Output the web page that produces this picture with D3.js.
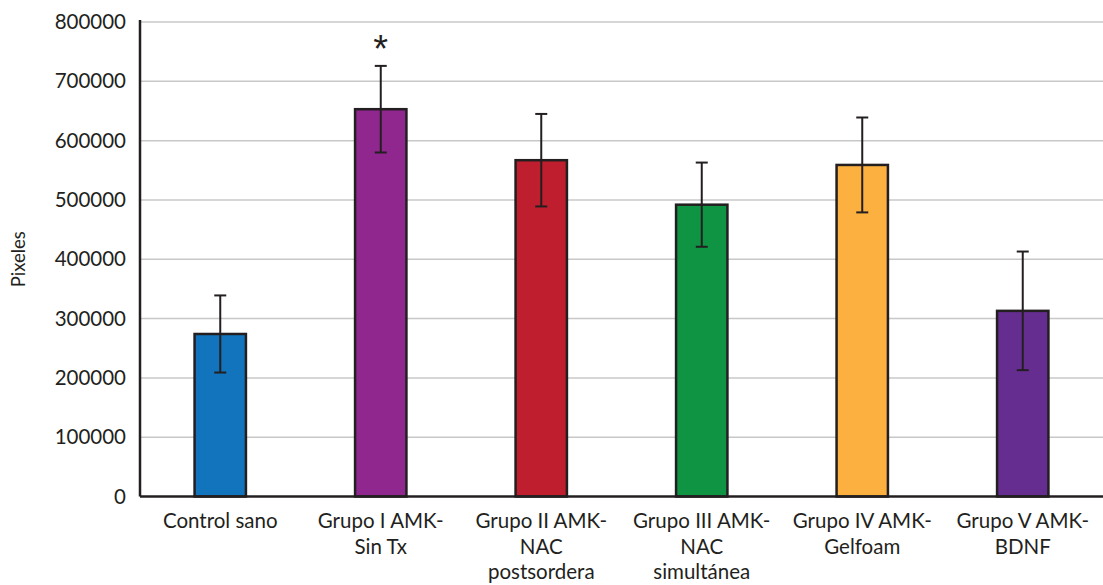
<!DOCTYPE html>
<html>
<head>
<meta charset="utf-8">
<script src="https://cdn.jsdelivr.net/npm/d3@7"></script>
<style>
  body { margin: 0; background: #fff; }
  svg { display: block; font-family: Lato, "Open Sans", sans-serif; }
</style>
</head>
<body>
<div id="chart"></div>
<script>
const categories = [
  ["Control sano"],
  ["Grupo I AMK-", "Sin Tx"],
  ["Grupo II AMK-", "NAC", "postsordera"],
  ["Grupo III AMK-", "NAC", "simultánea"],
  ["Grupo IV AMK-", "Gelfoam"],
  ["Grupo V AMK-", "BDNF"]
];
const values = [274000, 653000, 567000, 492000, 559000, 313000];
const errors = [65000, 73000, 78000, 71000, 80000, 100000];
const colors = ["#1174bc", "#8f278f", "#be1e2d", "#0f9444", "#fbb040", "#652d90"];
const marks = ["", "*", "", "", "", ""];
const yTicks = [0, 100000, 200000, 300000, 400000, 500000, 600000, 700000, 800000];

const W = 1103, H = 585;
const M = { top: 22, right: 0, bottom: 88.5, left: 140 };

const svg = d3.select("#chart").append("svg")
  .attr("width", W).attr("height", H);

const x = d3.scaleBand()
  .domain(d3.range(categories.length))
  .range([M.left, W - M.right])
  .paddingInner(0.68).paddingOuter(0.34);

const y = d3.scaleLinear()
  .domain([0, 800000])
  .range([H - M.bottom, M.top]);

// gridlines
svg.append("g")
  .selectAll("line")
  .data(yTicks.slice(1))
  .join("line")
  .attr("x1", M.left).attr("x2", W - M.right)
  .attr("y1", d => y(d)).attr("y2", d => y(d))
  .attr("stroke", "#c8c8c8")
  .attr("stroke-width", 1.5);

// y tick labels
svg.append("g")
  .selectAll("text")
  .data(yTicks)
  .join("text")
  .attr("x", M.left - 14)
  .attr("y", d => y(d))
  .attr("dy", "0.35em")
  .attr("text-anchor", "end")
  .attr("font-size", 20.5)
  .attr("fill", "#231f20")
  .text(d => d);

// bars
svg.append("g")
  .selectAll("rect")
  .data(values)
  .join("rect")
  .attr("x", (d, i) => x(i))
  .attr("y", d => y(d))
  .attr("width", x.bandwidth())
  .attr("height", d => y(0) - y(d))
  .attr("fill", (d, i) => colors[i])
  .attr("stroke", "#231f20")
  .attr("stroke-width", 2.5);

// error bars
const eg = svg.append("g").attr("stroke", "#231f20").attr("stroke-width", 2);
values.forEach((v, i) => {
  const cx = x(i) + x.bandwidth() / 2;
  const lo = y(v - errors[i]), hi = y(v + errors[i]);
  eg.append("line").attr("x1", cx).attr("x2", cx).attr("y1", lo).attr("y2", hi);
  eg.append("line").attr("x1", cx - 6).attr("x2", cx + 6).attr("y1", lo).attr("y2", lo);
  eg.append("line").attr("x1", cx - 6).attr("x2", cx + 6).attr("y1", hi).attr("y2", hi);
});

// significance marks
svg.append("g")
  .selectAll("text")
  .data(marks)
  .join("text")
  .attr("x", (d, i) => x(i) + x.bandwidth() / 2)
  .attr("y", (d, i) => y(values[i] + errors[i]) - 4)
  .attr("text-anchor", "middle")
  .attr("font-family", "'Liberation Sans', sans-serif")
  .attr("font-size", 38)
  .attr("fill", "#231f20")
  .text(d => d);

// axes lines
svg.append("line")
  .attr("x1", M.left).attr("x2", M.left)
  .attr("y1", M.top - 2).attr("y2", y(0))
  .attr("stroke", "#231f20").attr("stroke-width", 2.5);
svg.append("line")
  .attr("x1", M.left).attr("x2", W - M.right)
  .attr("y1", y(0)).attr("y2", y(0))
  .attr("stroke", "#231f20").attr("stroke-width", 2.5);

// x labels
const xl = svg.append("g")
  .selectAll("text")
  .data(categories)
  .join("text")
  .attr("text-anchor", "middle")
  .attr("font-size", 20.5)
  .attr("fill", "#231f20");
xl.each(function (lines, i) {
  const t = d3.select(this);
  lines.forEach((ln, j) => {
    t.append("tspan")
      .attr("x", x(i) + x.bandwidth() / 2)
      .attr("y", 528 + j * 25.5)
      .text(ln);
  });
});

// y title
svg.append("text")
  .attr("transform", `translate(25,${(M.top + y(0)) / 2}) rotate(-90)`)
  .attr("text-anchor", "middle")
  .attr("font-size", 18.5)
  .attr("fill", "#231f20")
  .text("Pixeles");
</script>
</body>
</html>
